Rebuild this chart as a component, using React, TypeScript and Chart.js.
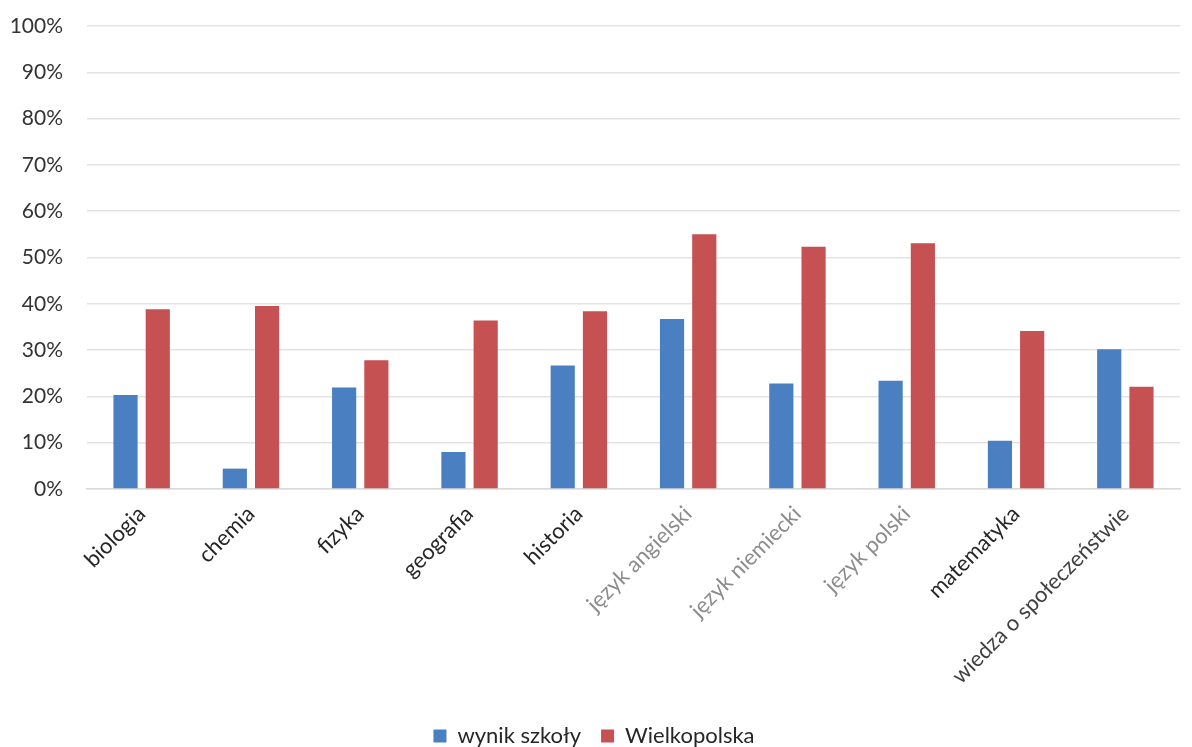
import React, { useEffect, useRef } from "react";
import { Chart, registerables } from "chart.js";

Chart.register(...registerables);

const categories = [
  "biologia",
  "chemia",
  "fizyka",
  "geografia",
  "historia",
  "język angielski",
  "język niemiecki",
  "język polski",
  "matematyka",
  "wiedza o społeczeństwie",
];
const wynikSzkoly = [20.3, 4.4, 21.9, 8.0, 26.7, 36.7, 22.8, 23.4, 10.4, 30.2];
const wielkopolska = [38.8, 39.5, 27.8, 36.4, 38.4, 55.0, 52.3, 53.1, 34.1, 22.1];
const labelColors = ["#262626", "#262626", "#262626", "#262626", "#262626", "#8c8c8c", "#8c8c8c", "#8c8c8c", "#262626", "#404040"];

export default function App() {
  const ref = useRef<HTMLCanvasElement>(null);
  useEffect(() => {
    document.body.style.margin = "0";
    const ctx = ref.current!;
    const chart = new Chart(ctx, {
      type: "bar",
      data: {
        labels: categories,
        datasets: [
          {
            label: "wynik szkoły",
            data: wynikSzkoly,
            backgroundColor: "#4a7fc1",
            categoryPercentage: 0.59,
            barPercentage: 0.75,
          },
          {
            label: "Wielkopolska",
            data: wielkopolska,
            backgroundColor: "#c65152",
            categoryPercentage: 0.59,
            barPercentage: 0.75,
          },
        ],
      },
      options: {
        animation: false,
        responsive: false,
        maintainAspectRatio: false,
        layout: { padding: { top: 26, right: 12, left: 8, bottom: -10 } },
        scales: {
          y: {
            min: 0,
            max: 100,
            afterFit: (scale: any) => {
              scale.width = 79;
              scale.paddingTop = 0;
              scale.paddingBottom = 0;
            },
            ticks: {
              stepSize: 10,
              callback: (v: any) => v + "%",
              color: "#333333",
              font: { family: "Lato", size: 21 },
              padding: 24,
            },
            grid: { color: "#e3e3e3", lineWidth: 1.5, drawTicks: false },
            border: { display: false },
          },
          x: {
            afterFit: (scale: any) => {
              scale.paddingLeft = 0;
              scale.paddingRight = 0;
              scale.height = 216;
            },
            ticks: {
              maxRotation: 45,
              minRotation: 45,
              color: labelColors,
              font: { family: "Lato", size: 22 },
              padding: 12,
            },
            grid: { display: false, drawTicks: false },
            border: { color: "#d9d9d9", width: 1.5 },
          },
        },
        plugins: {
          legend: {
            position: "bottom",
            labels: {
              boxWidth: 13,
              boxHeight: 13,
              color: "#262626",
              font: { family: "Lato", size: 22 },
              padding: 20,
            },
          },
          tooltip: { enabled: false },
        },
      },
    });
    return () => chart.destroy();
  }, []);
  return (
    <div style={{ position: "absolute", left: 0, top: 0, width: 1192, height: 747, background: "#fff" }}>
      <canvas ref={ref} width={1192} height={747} style={{ width: 1192, height: 747 }} />
    </div>
  );
}
